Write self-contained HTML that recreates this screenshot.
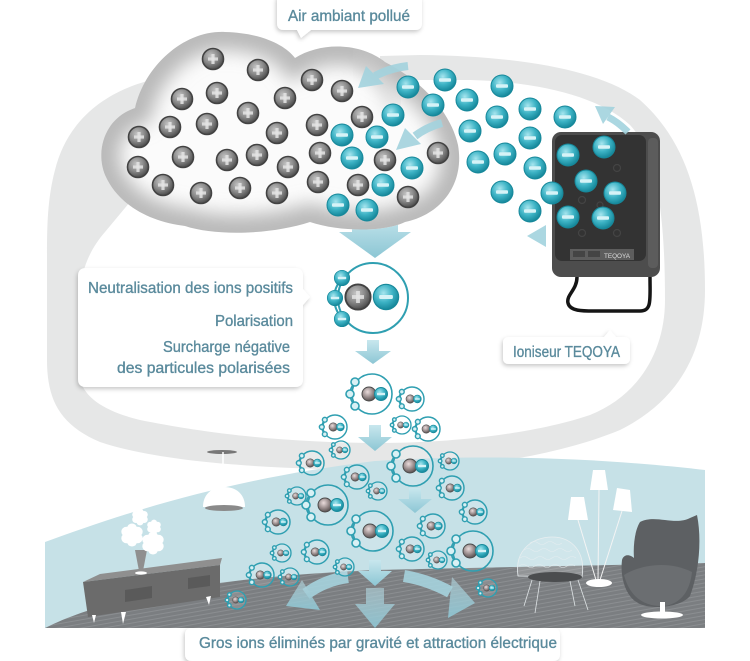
<!DOCTYPE html>
<html><head><meta charset="utf-8"><style>
html,body{margin:0;padding:0;background:#fff;}
svg{display:block;}
.t{font-family:"Liberation Sans Narrow","Liberation Sans",sans-serif;font-size:16px;fill:#5a8a9c;stroke:#5a8a9c;stroke-width:0.35;}
</style></head><body>
<svg width="750" height="661" viewBox="0 0 750 661" xmlns="http://www.w3.org/2000/svg">
<defs>
<radialGradient id="gg" cx="0.4" cy="0.35" r="0.65"><stop offset="0" stop-color="#c4c4c4"/><stop offset="0.55" stop-color="#8a8a8a"/><stop offset="1" stop-color="#4d4d4d"/></radialGradient>
<radialGradient id="tg" cx="0.4" cy="0.35" r="0.65"><stop offset="0" stop-color="#a6e5ee"/><stop offset="0.55" stop-color="#3db3c5"/><stop offset="1" stop-color="#16889b"/></radialGradient>
<radialGradient id="pg" cx="0.4" cy="0.35" r="0.65"><stop offset="0" stop-color="#eadcdc"/><stop offset="0.55" stop-color="#9d9090"/><stop offset="1" stop-color="#5a5252"/></radialGradient>
<linearGradient id="ag" x1="0" y1="0" x2="0" y2="1"><stop offset="0" stop-color="#c8e7ee"/><stop offset="1" stop-color="#8cc6d4"/></linearGradient>
<linearGradient id="fa" x1="0" y1="0" x2="0" y2="1"><stop offset="0" stop-color="#b9dfe8" stop-opacity="0.6"/><stop offset="1" stop-color="#8ec7d5"/></linearGradient>
<filter id="bl" x="-20%" y="-20%" width="140%" height="140%"><feGaussianBlur stdDeviation="9"/></filter>
<filter id="sh" x="-10%" y="-20%" width="120%" height="150%"><feDropShadow dx="-1" dy="2" stdDeviation="2" flood-color="#000" flood-opacity="0.22"/></filter>
<pattern id="fl" width="7" height="4" patternUnits="userSpaceOnUse" patternTransform="rotate(-10)"><rect width="7" height="4" fill="#7b7e81"/><line x1="0" y1="0.5" x2="7" y2="0.5" stroke="#8b8e91" stroke-width="1"/></pattern>
<path id="cloudp" d="M105,175 C95,150 105,118 135,108 C145,65 185,30 225,32 C262,33 285,45 295,58 C320,42 360,42 385,62 C420,80 450,110 458,145 C465,185 440,215 405,222 C385,232 340,232 310,222 C270,235 215,236 185,226 C150,222 118,205 105,175 Z"/>
<clipPath id="cc"><use href="#cloudp"/></clipPath>
<g id="gi"><circle r="10.5" fill="url(#gg)" stroke="#424242" stroke-width="1.6"/><rect x="-5" y="-1.6" width="10" height="3.2" fill="#e4e4e4" opacity="0.85"/><rect x="-1.6" y="-5" width="3.2" height="10" fill="#e4e4e4" opacity="0.85"/></g>
<g id="ti"><circle r="11" fill="url(#tg)" stroke="#17889a" stroke-width="1"/><rect x="-6" y="-1.7" width="12" height="3.4" rx="1" fill="#d6f3f7"/></g>
<g id="pp" stroke="#2f9fb1" fill="none">
<circle r="20" fill="rgba(255,255,255,0.12)"/>
<path d="M-17,-12 Q-27,0 -17,12"/>
<circle cx="-17" cy="-12" r="4" fill="#d9f1f5"/>
<circle cx="-22" cy="0" r="4" fill="#d9f1f5"/>
<circle cx="-17" cy="12" r="4" fill="#d9f1f5"/>
<circle cx="-3" cy="0" r="7" fill="url(#pg)" stroke="#4a4a4a" stroke-width="1"/>
<circle cx="9" cy="0" r="6.5" fill="url(#tg)" stroke="#1a8a9c" stroke-width="1"/>
<rect x="5" y="-1.2" width="8" height="2.4" fill="#d6f3f7" stroke="none"/>
</g>
<g id="daisy" fill="#fff">
<circle cx="0" cy="-0.6" r="0.45"/><circle cx="0.52" cy="-0.3" r="0.45"/><circle cx="0.52" cy="0.3" r="0.45"/>
<circle cx="0" cy="0.6" r="0.45"/><circle cx="-0.52" cy="0.3" r="0.45"/><circle cx="-0.52" cy="-0.3" r="0.45"/>
<circle r="0.5"/>
</g>
</defs>

<!-- big flow band -->
<path d="M165,77 C120,85 70,110 55,170 C47,200 47,230 47,260 L47,360 C47,400 60,425 100,442 C160,462 260,469 380,470 C470,470 560,455 620,430 C680,400 705,350 705,290 C705,200 685,140 640,100 C600,70 520,56 420,55 L380,56 L380,80 L470,80 C540,82 600,97 630,125 C658,155 665,220 665,300 C665,350 640,395 590,415 C540,432 460,443 380,443 C280,443 200,432 140,420 C100,410 80,395 78,370 L78,320 C78,280 85,255 105,232 L140,190 L200,180 Z" fill="#e6e7e7"/>

<!-- room -->
<path d="M45,542 C120,515 220,480 375,461 C500,453 620,460 705,470 L705,628 L45,628 Z" fill="#c6e1e7"/>
<path d="M45,628 C100,600 200,578 375,570 L705,563 L705,628 Z" fill="url(#fl)"/>

<!-- pendant lamp -->
<ellipse cx="222" cy="452" rx="15" ry="2" fill="#777"/>
<line x1="223" y1="452" x2="223" y2="489" stroke="#fff" stroke-width="1.5"/>
<path d="M203,507 C203,494 212,487 224,487 C236,487 245,494 245,507 Z" fill="#fff"/>
<ellipse cx="224" cy="508" rx="19" ry="3" fill="#8a8a8a"/>

<!-- cabinet -->
<polygon points="83,582 100,574 222,558 220,565" fill="#8f8f8f"/>
<polygon points="83,582 220,565 220,597 88,617" fill="#6b6b6b"/>
<polygon points="125,590 152,586 152,598 125,602" fill="#5a5a5a"/>
<polygon points="188,578 210,575 210,586 188,589" fill="#5a5a5a"/>
<polygon points="92,615 96,615 94,623" fill="#fff"/>
<polygon points="121,612 126,612 123,624" fill="#fff"/>
<polygon points="206,597 211,596 209,605" fill="#fff"/>
<polygon points="135,550 147,550 143,571 139,571" fill="#8f8f8f"/>
<ellipse cx="141" cy="573" rx="6" ry="1.6" fill="#fff"/>
<use href="#daisy" transform="translate(140,517) scale(8)"/>
<use href="#daisy" transform="translate(154,527) scale(7)"/>
<use href="#daisy" transform="translate(132,535) scale(11)"/>
<use href="#daisy" transform="translate(153,543) scale(11)"/>

<!-- floor lamp -->
<g stroke="#f4f4f4" stroke-width="1">
<line x1="599" y1="490" x2="598" y2="580"/><line x1="578" y1="520" x2="596" y2="580"/><line x1="622" y1="511" x2="600" y2="580"/>
</g>
<polygon points="593,470 605,470 608,490 590,490" fill="#fff"/>
<polygon points="571,497 584,497 588,520 568,520" fill="#fff"/>
<polygon points="617,488 630,490 632,512 613,510" fill="#fff"/>
<ellipse cx="599" cy="583" rx="13" ry="4" fill="#fff"/>

<!-- wire chair -->
<path d="M518,576 C514,548 535,537 552,537 C572,537 586,552 582,577 Z" fill="rgba(255,255,255,0.18)" stroke="#e8eef0" stroke-width="0.8"/>
<g fill="none" stroke="#e8eef0" stroke-width="0.6" opacity="0.8">
<path d="M524,550 q4,-3 8,0 t8,0 t8,0 t8,0 t8,0 t8,0"/>
<path d="M520,558 q4,-3 8,0 t8,0 t8,0 t8,0 t8,0 t8,0 t8,0"/>
<path d="M519,566 q4,-3 8,0 t8,0 t8,0 t8,0 t8,0 t8,0 t8,0"/>
<path d="M530,543 q4,-3 8,0 t8,0 t8,0 t8,0"/>
</g>
<ellipse cx="555" cy="577" rx="27" ry="5" fill="#4b4d4f"/>
<g stroke="#dfe4e6" stroke-width="0.8">
<line x1="532" y1="580" x2="524" y2="606"/><line x1="540" y1="581" x2="535" y2="613"/><line x1="570" y1="581" x2="575" y2="606"/><line x1="578" y1="580" x2="588" y2="610"/>
</g>

<!-- egg chair -->
<path d="M697,515 C702,540 699,572 690,596 C680,608 650,610 638,603 C625,596 620,576 622,560 C624,553 631,555 634,558 C633,545 635,530 640,522 C655,514 675,526 690,518 Z" fill="#5d6063"/>
<path d="M624,575 C640,565 668,560 692,572 C690,590 682,603 665,606 C645,607 630,598 624,575 Z" fill="#6b6e71"/>
<rect x="660" y="602" width="5" height="11" fill="#fff"/>
<ellipse cx="662" cy="615" rx="21" ry="3.5" fill="#fff"/>

<!-- arrow under cloud -->
<polygon points="352,212 398,212 398,232 411,232 375,258 339,232 352,232" fill="url(#ag)"/>

<!-- cloud -->
<use href="#cloudp" fill="#fbfbfb"/>
<g clip-path="url(#cc)">
<use href="#cloudp" fill="none" stroke="#b9b9b9" stroke-width="36" filter="url(#bl)"/>
<path d="M360,56 Q388,80 394,112" fill="none" stroke="#cfcfcf" stroke-width="10" filter="url(#bl)"/>
</g>

<!-- gray ions -->
<g>
<use href="#gi" x="213" y="59"/><use href="#gi" x="258" y="70"/><use href="#gi" x="312" y="80"/><use href="#gi" x="342" y="91"/>
<use href="#gi" x="182" y="99"/><use href="#gi" x="217" y="93"/><use href="#gi" x="285" y="98"/><use href="#gi" x="248" y="113"/>
<use href="#gi" x="362" y="117"/><use href="#gi" x="170" y="127"/><use href="#gi" x="207" y="124"/><use href="#gi" x="277" y="133"/>
<use href="#gi" x="317" y="125"/><use href="#gi" x="139" y="137"/><use href="#gi" x="138" y="167"/><use href="#gi" x="183" y="157"/>
<use href="#gi" x="227" y="160"/><use href="#gi" x="257" y="155"/><use href="#gi" x="288" y="167"/><use href="#gi" x="320" y="153"/>
<use href="#gi" x="163" y="185"/><use href="#gi" x="201" y="193"/><use href="#gi" x="240" y="188"/><use href="#gi" x="277" y="193"/>
<use href="#gi" x="318" y="182"/><use href="#gi" x="358" y="185"/><use href="#gi" x="385" y="160"/><use href="#gi" x="438" y="153"/>
<use href="#gi" x="408" y="197"/>
</g>

<!-- ionizer -->
<rect x="552" y="132" width="108" height="145" rx="9" fill="#4d4d4d"/>
<rect x="648" y="138" width="10" height="130" rx="4" fill="#5c5c5c"/>
<rect x="555" y="135" width="91" height="126" rx="7" fill="#333"/>
<g fill="none" stroke="#444" stroke-width="1.2">
<circle cx="617" cy="168" r="3.5"/><circle cx="582" cy="200" r="3.5"/><circle cx="617" cy="233" r="3.5"/><circle cx="582" cy="233" r="3.5"/><circle cx="600" cy="205" r="3"/>
</g>
<rect x="570" y="249" width="64" height="11" fill="#5d5d5d"/>
<rect x="573" y="251" width="12" height="6" fill="#444"/><rect x="588" y="251" width="12" height="6" fill="#444"/>
<text x="604" y="258" font-family="Liberation Sans, sans-serif" font-size="6" fill="#ddd" textLength="26" lengthAdjust="spacingAndGlyphs">TEQOYA</text>
<path d="M577,277 C577,290 566,295 568,303 C570,312 585,311 600,311 L640,311 C652,311 650,300 650,277" fill="none" stroke="#151515" stroke-width="3.5"/>

<!-- flow arrows near cloud/ionizer -->
<g fill="#a3d3de" opacity="0.9">
<path d="M408,66 Q390,68 375,76" fill="none" stroke="#a3d3de" stroke-width="8"/>
<polygon points="358,88 366,66 384,84"/>
<path d="M442,123 Q427,127 415,136" fill="none" stroke="#a3d3de" stroke-width="8"/>
<polygon points="396,150 405,128 421,144"/>
<path d="M628,132 Q618,122 608,117" fill="none" stroke="#a3d3de" stroke-width="7"/>
<polygon points="595,106 615,107 603,124"/>
<polygon points="527,236 546,225 546,247"/>
</g>

<!-- teal ions -->
<g>
<use href="#ti" x="342" y="135"/><use href="#ti" x="377" y="137"/><use href="#ti" x="352" y="158"/><use href="#ti" x="393" y="115"/>
<use href="#ti" x="412" y="168"/><use href="#ti" x="383" y="185"/><use href="#ti" x="338" y="205"/><use href="#ti" x="367" y="210"/>
<use href="#ti" x="408" y="87"/><use href="#ti" x="445" y="80"/><use href="#ti" x="433" y="105"/><use href="#ti" x="467" y="100"/>
<use href="#ti" x="502" y="86"/><use href="#ti" x="497" y="117"/><use href="#ti" x="530" y="109"/><use href="#ti" x="565" y="117"/>
<use href="#ti" x="470" y="131"/><use href="#ti" x="530" y="138"/><use href="#ti" x="505" y="154"/><use href="#ti" x="478" y="162"/>
<use href="#ti" x="535" y="168"/><use href="#ti" x="502" y="192"/><use href="#ti" x="552" y="193"/><use href="#ti" x="530" y="211"/>
<use href="#ti" x="568" y="155"/><use href="#ti" x="604" y="147"/><use href="#ti" x="586" y="181"/><use href="#ti" x="615" y="193"/>
<use href="#ti" x="568" y="217"/><use href="#ti" x="603" y="218"/>
</g>

<!-- neutralisation particle -->
<circle cx="373" cy="298" r="35" fill="none" stroke="#2f9fb1" stroke-width="2"/>
<path d="M342,278 Q326,298 342,319" fill="none" stroke="#2f9fb1" stroke-width="2"/>
<use href="#ti" transform="translate(342,278) scale(0.7)"/>
<use href="#ti" transform="translate(335,298) scale(0.7)"/>
<use href="#ti" transform="translate(342,319) scale(0.7)"/>
<use href="#gi" transform="translate(358,297) scale(1.2)"/>
<use href="#ti" transform="translate(386,297) scale(1.15)"/>

<!-- cascade arrows -->
<g fill="url(#ag)">
<polygon points="367,340 379,340 379,351 391,351 373,364 355,351 367,351"/>
<polygon points="369,425 381,425 381,437 392,437 375,451 358,437 369,437"/>
<polygon points="409,488 421,488 421,499 432,499 415,513 398,499 409,499"/>
<polygon points="369,560 381,560 381,571 392,571 375,586 358,571 369,571"/>
</g>

<!-- floor arrows -->
<g fill="url(#fa)" opacity="0.9">
<path d="M348,577 Q325,580 306,594" fill="none" stroke="#a6d3de" stroke-width="12"/>
<polygon points="286,606 302,580 320,610"/>
<polygon points="366,588 384,588 384,604 395,604 375,628 355,604 366,604"/>
<path d="M404,576 Q428,580 450,592" fill="none" stroke="#a6d3de" stroke-width="12"/>
<polygon points="475,603 452,577 448,618"/>
</g>

<!-- cascade particles -->
<g>
<use href="#pp" transform="translate(372,394)" stroke-width="1.6"/>
<use href="#pp" transform="translate(413,466)" stroke-width="1.6"/>
<use href="#pp" transform="translate(328,505)" stroke-width="1.6"/>
<use href="#pp" transform="translate(373,531)" stroke-width="1.6"/>
<use href="#pp" transform="translate(473,551)" stroke-width="1.6"/>
<use href="#pp" transform="translate(412,399) scale(0.6)" stroke-width="2.4"/>
<use href="#pp" transform="translate(335,427) scale(0.6)" stroke-width="2.4"/>
<use href="#pp" transform="translate(428,429) scale(0.6)" stroke-width="2.4"/>
<use href="#pp" transform="translate(312,463) scale(0.6)" stroke-width="2.4"/>
<use href="#pp" transform="translate(357,477) scale(0.6)" stroke-width="2.4"/>
<use href="#pp" transform="translate(452,488) scale(0.6)" stroke-width="2.4"/>
<use href="#pp" transform="translate(475,512) scale(0.6)" stroke-width="2.4"/>
<use href="#pp" transform="translate(278,522) scale(0.6)" stroke-width="2.4"/>
<use href="#pp" transform="translate(433,526) scale(0.6)" stroke-width="2.4"/>
<use href="#pp" transform="translate(317,552) scale(0.6)" stroke-width="2.4"/>
<use href="#pp" transform="translate(412,549) scale(0.6)" stroke-width="2.4"/>
<use href="#pp" transform="translate(262,575) scale(0.6)" stroke-width="2.4"/>
<use href="#pp" transform="translate(402,425) scale(0.45)" stroke-width="3"/>
<use href="#pp" transform="translate(341,450) scale(0.45)" stroke-width="3"/>
<use href="#pp" transform="translate(450,461) scale(0.45)" stroke-width="3"/>
<use href="#pp" transform="translate(378,491) scale(0.45)" stroke-width="3"/>
<use href="#pp" transform="translate(297,496) scale(0.45)" stroke-width="3"/>
<use href="#pp" transform="translate(282,553) scale(0.45)" stroke-width="3"/>
<use href="#pp" transform="translate(345,567) scale(0.45)" stroke-width="3"/>
<use href="#pp" transform="translate(290,577) scale(0.45)" stroke-width="3"/>
<use href="#pp" transform="translate(438,560) scale(0.45)" stroke-width="3"/>
<use href="#pp" transform="translate(488,588) scale(0.45)" stroke-width="3"/>
<use href="#pp" transform="translate(237,600) scale(0.45)" stroke-width="3"/>
</g>

<!-- label boxes -->
<g filter="url(#sh)" fill="#fff">
<path d="M284,-6 H415 Q422,-6 422,1 V23 Q422,30 415,30 H311 L301,38 L297,30 H284 Q277,30 277,23 V1 Q277,-6 284,-6 Z"/>
<path d="M86,268 H295 Q303,268 303,276 V289 L310,297 L303,305 V379 Q303,387 295,387 H86 Q78,387 78,379 V276 Q78,268 86,268 Z"/>
<path d="M509,337 H604 L610,330 L616,337 H624 Q630,337 630,343 V358 Q630,364 624,364 H509 Q503,364 503,358 V343 Q503,337 509,337 Z"/>
<path d="M192,628 H553 Q560,628 560,635 V654 Q560,661 553,661 H192 Q185,661 185,654 V635 Q185,628 192,628 Z"/>
</g>

<text class="t" x="288" y="21" textLength="122" lengthAdjust="spacingAndGlyphs">Air ambiant pollué</text>
<text class="t" x="88" y="293" textLength="205" lengthAdjust="spacingAndGlyphs">Neutralisation des ions positifs</text>
<text class="t" x="215" y="326" textLength="78" lengthAdjust="spacingAndGlyphs">Polarisation</text>
<text class="t" x="163" y="352" textLength="127" lengthAdjust="spacingAndGlyphs">Surcharge négative</text>
<text class="t" x="117" y="373" textLength="173" lengthAdjust="spacingAndGlyphs">des particules polarisées</text>
<text class="t" x="513" y="357" textLength="107" lengthAdjust="spacingAndGlyphs">Ioniseur TEQOYA</text>
<text class="t" x="199" y="648" textLength="358" lengthAdjust="spacingAndGlyphs">Gros ions éliminés par gravité et attraction électrique</text>
</svg>
</body></html>
